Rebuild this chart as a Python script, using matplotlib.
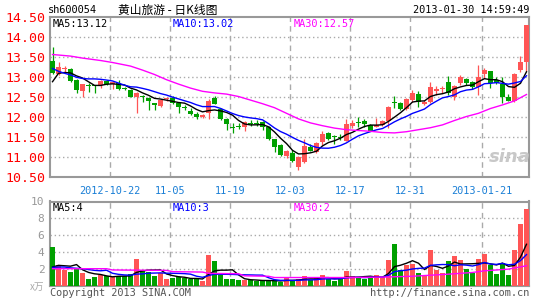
import matplotlib
matplotlib.use("Agg")
import matplotlib.pyplot as plt
import numpy as np
import pandas as pd

W, H = 545, 300

# daily K data, 2012-10-08 .. 2013-01-30 (80 sessions)
opens = [13.41, 13.08, 13.21, 13.22, 12.93, 12.66, 12.80, 12.80, 12.81, 12.91,
         12.83, 12.87, 12.72, 12.68, 12.52, 12.53, 12.47, 12.34, 12.28, 12.45,
         12.48, 12.37, 12.26, 12.17, 12.08, 12.01, 12.12, 12.49, 12.20, 11.97,
         11.75, 11.78, 11.75, 11.86, 11.86, 11.89, 11.77, 11.45, 11.31, 11.03,
         11.10, 10.75, 10.89, 11.27, 11.13, 11.39, 11.62, 11.51, 11.51, 11.42,
         11.78, 11.86, 11.90, 11.81, 11.77, 11.81, 11.92, 12.38, 12.35, 12.22,
         12.43, 12.58, 12.33, 12.38, 12.67, 12.70, 12.88, 12.52, 12.85, 12.96,
         12.88, 12.77, 13.08, 13.16, 12.93, 12.83, 12.52, 12.41, 13.18, 13.39]
highs = [13.77, 13.39, 13.28, 13.24, 12.95, 12.84, 12.85, 12.81, 12.93, 12.93,
         12.90, 12.93, 12.77, 12.70, 12.64, 12.56, 12.52, 12.35, 12.45, 12.50,
         12.53, 12.39, 12.31, 12.24, 12.14, 12.08, 12.46, 12.53, 12.22, 11.98,
         11.85, 11.85, 11.91, 11.94, 11.92, 11.90, 11.78, 11.46, 11.32, 11.19,
         11.17, 11.04, 11.45, 11.33, 11.39, 11.66, 11.64, 11.56, 11.59, 11.95,
         11.93, 12.00, 11.95, 11.83, 11.99, 11.92, 12.29, 12.53, 12.39, 12.48,
         12.68, 12.66, 12.43, 12.89, 12.79, 12.79, 13.03, 12.82, 13.06, 12.98,
         12.91, 13.31, 13.24, 13.16, 13.00, 13.02, 12.58, 13.10, 13.54, 14.31]
lows = [13.08, 13.05, 13.12, 12.89, 12.60, 12.51, 12.64, 12.60, 12.72, 12.82,
        12.70, 12.67, 12.67, 12.50, 12.10, 12.39, 12.17, 12.18, 12.27, 12.40,
        12.33, 12.12, 12.18, 12.06, 11.95, 11.99, 11.96, 12.33, 11.94, 11.67,
        11.62, 11.70, 11.66, 11.78, 11.79, 11.67, 11.43, 11.14, 11.04, 10.97,
        10.89, 10.68, 10.85, 11.15, 11.12, 11.31, 11.43, 11.34, 11.43, 11.40,
        11.74, 11.77, 11.75, 11.65, 11.75, 11.79, 11.72, 12.22, 12.17, 12.19,
        12.39, 12.27, 12.31, 12.35, 12.56, 12.60, 12.56, 12.44, 12.82, 12.80,
        12.71, 12.56, 12.98, 12.74, 12.83, 12.35, 12.40, 12.38, 13.14, 13.16]
closes = [13.10, 13.25, 13.23, 12.92, 12.68, 12.83, 12.78, 12.78, 12.91, 12.83,
          12.88, 12.72, 12.70, 12.52, 12.60, 12.51, 12.42, 12.32, 12.43, 12.46,
          12.37, 12.27, 12.24, 12.08, 12.02, 12.07, 12.42, 12.33, 11.96, 11.83,
          11.73, 11.76, 11.89, 11.84, 11.84, 11.77, 11.47, 11.25, 11.06, 11.17,
          10.92, 11.02, 11.28, 11.17, 11.37, 11.58, 11.45, 11.50, 11.49, 11.83,
          11.85, 11.85, 11.83, 11.67, 11.82, 11.90, 12.27, 12.36, 12.22, 12.46,
          12.60, 12.38, 12.39, 12.77, 12.69, 12.72, 12.60, 12.79, 13.00, 12.87,
          12.77, 13.02, 13.17, 12.87, 12.87, 12.52, 12.41, 13.08, 13.37, 14.31]
# volume, x10k lots
volumes = [4.62, 2.40, 1.84, 1.64, 1.96, 1.53, 0.82, 1.01, 1.25, 1.13,
           0.97, 1.13, 1.13, 1.37, 3.19, 1.84, 1.64, 1.17, 1.45, 0.78,
           0.86, 0.97, 0.85, 0.75, 0.75, 0.55, 3.65, 2.94, 1.25, 0.75,
           0.75, 0.65, 0.65, 0.65, 0.55, 0.50, 0.60, 0.60, 0.45, 0.85,
           0.55, 0.75, 1.15, 0.65, 0.85, 1.30, 0.75, 0.50, 0.75, 1.75,
           1.15, 0.85, 0.81, 0.97, 1.25, 1.05, 3.03, 4.93, 1.80, 2.44,
           2.56, 1.53, 1.17, 4.23, 1.85, 1.45, 2.92, 3.51, 3.03, 1.97,
           1.53, 3.15, 3.75, 2.44, 1.37, 2.64, 1.25, 4.23, 7.32, 9.10]

# moving averages: first points need history before the window
ma5_head = [12.89, 13.10, 13.12, 13.11]
ma10_head = [13.22, 13.15, 13.10, 13.06, 13.00, 12.97, 12.96, 12.96, 12.95]
ma30_idx = [0, 3, 5, 8, 10, 13, 15, 17, 19, 21, 23, 25, 27, 29, 31, 33, 35, 37, 39,
            41, 43, 45, 47, 49, 51, 53, 55, 57, 59, 61, 63, 65, 67, 69, 71, 73, 75, 77, 79]
ma30_val = [13.57, 13.53, 13.48, 13.42, 13.37, 13.28, 13.18, 13.07, 12.94, 12.83,
            12.73, 12.65, 12.61, 12.58, 12.52, 12.43, 12.34, 12.24, 12.10, 11.96,
            11.86, 11.79, 11.73, 11.69, 11.67, 11.65, 11.62, 11.61, 11.64, 11.69,
            11.74, 11.81, 11.92, 12.02, 12.10, 12.22, 12.31, 12.41, 12.57]
vma5_head = [2.20, 2.40, 2.35, 2.30]
vma10_head = [2.15, 2.20, 2.20, 2.10, 2.05, 2.00, 1.90, 1.80, 1.75]
vma30_idx = [0, 9, 10, 19, 20, 25, 26, 31, 32, 36, 37, 49, 55, 60, 66, 70, 72, 76, 79]
vma30_val = [2.00, 2.00, 1.85, 1.80, 1.65, 1.60, 1.45, 1.40, 1.15, 1.10, 0.95, 0.95,
             1.00, 1.10, 1.35, 1.55, 1.75, 1.95, 2.35]

# legend values as printed on the chart
price_ma_labels = ['MA5:13.12', 'MA10:13.02', 'MA30:12.57']
vol_ma_labels = ['MA5:4', 'MA10:3', 'MA30:2']

tick_idx = [10, 20, 30, 40, 50, 60, 72]
tick_labels = ['2012-10-22', '11-05', '11-19', '12-03', '12-17', '12-31', '2013-01-21']
price_ticks = [10.5, 11.0, 11.5, 12.0, 12.5, 13.0, 13.5, 14.0, 14.5]
vol_ticks = [2, 4, 6, 8, 10]

RED = '#ff5555'
GREEN = '#00a000'
MONO = 'DejaVu Sans Mono'
CJK = ['Noto Sans CJK SC', 'DejaVu Sans']


def rect(x0, y0, x1, y1):
    return [x0 / W, 1 - y1 / H, (x1 - x0) / W, (y1 - y0) / H]


def rolling(vals, n, head):
    out = pd.Series(vals).rolling(n).mean().to_numpy()
    out[:len(head)] = head
    return out


fig = plt.figure(figsize=(W / 100, H / 100), dpi=100)
ax_p = fig.add_axes(rect(50, 17.3, 529, 177.3))
ax_v = fig.add_axes(rect(50, 201.5, 529, 285.5))

x = np.arange(len(closes))
o, h, l, c = map(np.array, (opens, highs, lows, closes))
up = c >= o
cols = np.where(up, RED, GREEN)
grid_x = np.array(tick_idx) - 0.37

for ax in (ax_p, ax_v):
    ax.set_xlim(-0.42, 79.42)
    for s in ax.spines.values():
        s.set_color('#999999')
        s.set_linewidth(1.5)
    ax.tick_params(length=0)
    for gx in grid_x:
        ax.axvline(gx, color='#aaaaaa', lw=1, ls=(0, (4, 3)), zorder=0)

# price panel
ax_p.set_ylim(10.5, 14.5)
for p in price_ticks[1:-1]:
    ax_p.axhline(p, color='#aaaaaa', lw=1, ls=(0, (1, 2)), zorder=0)
ax_p.vlines(x, l, h, colors=cols, lw=0.9, zorder=2)
ax_p.bar(x, np.maximum(np.abs(c - o), 0.025), bottom=np.minimum(o, c),
         width=0.83, color=cols, linewidth=0, zorder=3)
ax_p.plot(x, rolling(closes, 5, ma5_head), color='black', lw=1.0, zorder=4)
ax_p.plot(x, rolling(closes, 10, ma10_head), color='#0000ff', lw=1.0, zorder=4)
ax_p.plot(ma30_idx, ma30_val, color='#ff00ff', lw=1.0, zorder=4)
ax_p.set_xticks([])
ax_p.set_yticks(price_ticks)
ax_p.set_yticklabels(['%.2f' % p for p in price_ticks], color='#ff0000',
                     family=MONO, fontsize=9.5)
ax_p.tick_params(axis='y', pad=3)
# watermark
fig.text(510 / W, 1 - 157 / H, 'sina', fontsize=13, style='italic', weight='bold',
         color='#c8c8c8', ha='center', va='center')

# volume panel
ax_v.set_ylim(0, 10)
for v in vol_ticks[:-1]:
    ax_v.axhline(v, color='#aaaaaa', lw=1, ls=(0, (1, 2)), zorder=0)
ax_v.bar(x, volumes, width=0.83, color=cols, linewidth=0, zorder=3)
ax_v.plot(x, rolling(volumes, 5, vma5_head), color='black', lw=1.0, zorder=4)
ax_v.plot(x, rolling(volumes, 10, vma10_head), color='#0000ff', lw=1.0, zorder=4)
ax_v.plot(vma30_idx, vma30_val, color='#ff00ff', lw=1.0, zorder=4)
ax_v.set_yticks(vol_ticks)
ax_v.set_yticklabels([str(v) for v in vol_ticks], color='#999999',
                     family=MONO, fontsize=8)
ax_v.tick_params(axis='y', pad=4)
ax_v.xaxis.tick_top()
ax_v.set_xticks(grid_x)
ax_v.set_xticklabels(tick_labels, color='#1a7fd6', family=MONO, fontsize=7.4)
ax_v.tick_params(axis='x', pad=4)

# MA legends
for y, labels in [(24, price_ma_labels), (208, vol_ma_labels)]:
    for xx, lab, col in zip([53, 173, 294], labels, ['black', '#0000ff', '#ff00ff']):
        fig.text(xx / W, 1 - y / H, lab, color=col, family=MONO, fontsize=7.4,
                 ha='left', va='center')

# header and footer
fig.text(48 / W, 1 - 10 / H, 'sh600054', family=MONO, fontsize=7.4, va='center')
fig.text(118 / W, 1 - 10 / H, '黄山旅游 - 日K线图', family=CJK, fontsize=8.5,
         va='center')
fig.text(529 / W, 1 - 10 / H, '2013-01-30 14:59:49', family=MONO, fontsize=7.4,
         ha='right', va='center')
fig.text(44 / W, 1 - 287 / H, 'x万', family=CJK, fontsize=7, color='#aaaaaa',
         ha='right', va='center', style='italic')
fig.text(50 / W, 1 - 293 / H, 'Copyright 2013 SINA.COM', family=MONO, fontsize=7.4,
         color='#555555', va='center')
fig.text(529 / W, 1 - 293 / H, 'http://finance.sina.com.cn', family=MONO,
         fontsize=7.4, color='#555555', ha='right', va='center')

fig.savefig('out.png', dpi=100)
